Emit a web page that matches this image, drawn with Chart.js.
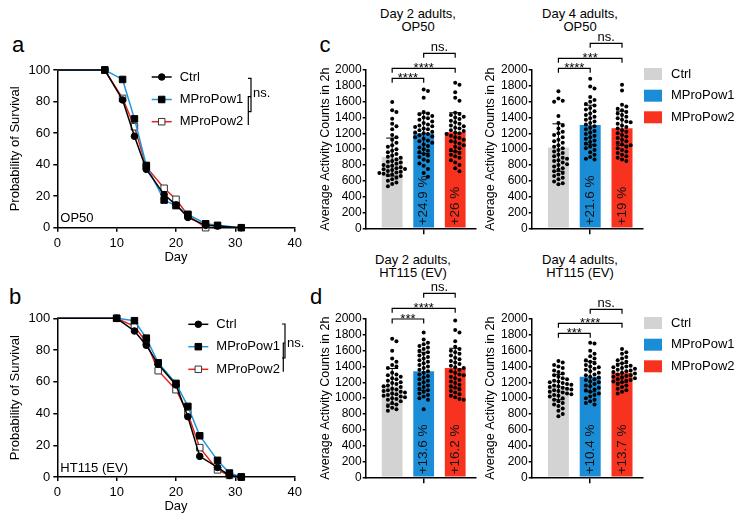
<!DOCTYPE html>
<html>
<head>
<meta charset="utf-8">
<script src="https://cdn.jsdelivr.net/npm/chart.js@4.4.1/dist/chart.umd.min.js"></script>
<style>
  body { margin: 0; background: #fff; width: 736px; height: 516px; position: relative; overflow: hidden;
         font-family: "Liberation Sans", Arial, Helvetica, sans-serif; color: #000; }
  canvas { position: absolute; }
  .lbl { position: absolute; white-space: nowrap; transform: translate(-50%, -50%); }
  .letter { font-size: 22px; }
  .ttl { font-size: 13px; line-height: 13.4px; text-align: center; }
</style>
</head>
<body>
<div class="lbl letter" style="left:18px;top:45px">a</div>
<div class="lbl letter" style="left:15px;top:297px">b</div>
<div class="lbl letter" style="left:325px;top:45px">c</div>
<div class="lbl letter" style="left:316px;top:297px">d</div>
<div class="lbl ttl" style="left:418px;top:20px">Day 2 adults,<br>OP50</div>
<div class="lbl ttl" style="left:580px;top:19.5px">Day 4 adults,<br>OP50</div>
<div class="lbl ttl" style="left:413px;top:266px">Day 2 adults,<br>HT115 (EV)</div>
<div class="lbl ttl" style="left:580px;top:266px">Day 4 adults,<br>HT115 (EV)</div>

<canvas id="survA" width="306" height="235" style="left:0;top:40px"></canvas>
<canvas id="survB" width="306" height="226" style="left:0;top:290px"></canvas>
<canvas id="actC2" width="180" height="250" style="left:300px;top:0"></canvas>
<canvas id="actC4" width="266" height="250" style="left:470px;top:0"></canvas>
<canvas id="actD2" width="180" height="266" style="left:300px;top:250px"></canvas>
<canvas id="actD4" width="266" height="266" style="left:470px;top:250px"></canvas>

<script>
// ---------- data ----------
const groups = ['Ctrl', 'MProPow1', 'MProPow2'];

// survival curves, panel a (OP50)
const daysA_ctrl = [0, 8, 11, 13, 15, 18, 20, 22, 25, 27, 31];
const survA_ctrl = [100, 100, 81, 58, 37, 21, 14.5, 6.5, 1.5, 1, 0];
const daysA_pow1 = [0, 8, 11, 13, 15, 18, 20, 22, 25, 27, 31];
const survA_pow1 = [100, 100, 94, 69, 39.5, 17.5, 14, 8.5, 2.5, 1.5, 0];
const daysA_pow2 = [0, 8, 11, 13, 15, 18, 20, 22, 25];
const survA_pow2 = [100, 100, 82, 64, 38.5, 25, 18, 8, 0];

// survival curves, panel b (HT115 (EV))
const daysB_ctrl = [0, 10, 13, 15, 17, 20, 22, 24, 27, 29, 31];
const survB_ctrl = [100, 100, 92, 83, 71, 58, 38, 13, 6, 1, 0];
const daysB_pow1 = [0, 10, 13, 15, 17, 20, 22, 24, 27, 29, 31];
const survB_pow1 = [100, 100, 98.5, 87.5, 72, 59, 44.5, 26, 10.5, 2.5, 0];
const daysB_pow2 = [0, 10, 13, 15, 17, 20, 22, 24, 27, 29, 31];
const survB_pow2 = [100, 100, 95, 85, 67, 55, 40, 18.5, 4.5, 1, 0];

// activity, day 2 OP50
const meanC2 = [900, 1200, 1215];
const sdC2 = [240, 255, 245];
const pctC2 = ['', '+24.9 %', '+26 %'];
const sigC2 = ['****', '****', 'ns.'];
const dotsC2_ctrl = [1595, 1490, 1470, 1385, 1320, 1290, 1250, 1180, 1150, 1120, 1080, 1050, 1030, 1000, 980, 960, 940, 920, 905, 890, 870, 850, 840, 830, 815, 800, 790, 780, 770, 760, 750, 745, 735, 725, 715, 705, 700, 690, 680, 670, 660, 640, 620, 600, 580, 560, 530];
const dotsC2_pow1 = [1755, 1735, 1650, 1470, 1450, 1440, 1420, 1400, 1390, 1370, 1350, 1330, 1310, 1300, 1290, 1280, 1260, 1250, 1240, 1220, 1210, 1200, 1190, 1175, 1160, 1150, 1130, 1110, 1100, 1080, 1060, 1040, 1020, 1000, 980, 960, 940, 920, 900, 870, 850, 820, 790, 750, 700, 650];
const dotsC2_pow2 = [1840, 1815, 1720, 1650, 1610, 1460, 1445, 1430, 1410, 1400, 1380, 1360, 1340, 1320, 1300, 1290, 1270, 1260, 1240, 1230, 1210, 1200, 1190, 1170, 1150, 1140, 1120, 1100, 1090, 1070, 1050, 1030, 1010, 990, 970, 950, 930, 910, 890, 860, 830, 800, 760, 720];

// activity, day 4 OP50
const meanC4 = [1020, 1305, 1265];
const sdC4 = [300, 250, 215];
const pctC4 = ['', '+21.6 %', '+19 %'];
const sigC4 = ['****', '***', 'ns.'];
const dotsC4_ctrl = [1730, 1640, 1610, 1600, 1420, 1330, 1300, 1260, 1220, 1200, 1180, 1150, 1120, 1100, 1080, 1050, 1030, 1010, 990, 970, 950, 930, 910, 890, 880, 860, 850, 830, 810, 800, 780, 760, 740, 720, 700, 680, 660, 640, 620, 590, 570, 555];
const dotsC4_pow1 = [1890, 1790, 1765, 1660, 1620, 1600, 1570, 1550, 1520, 1500, 1480, 1450, 1430, 1410, 1390, 1370, 1350, 1330, 1310, 1290, 1270, 1250, 1230, 1210, 1190, 1170, 1150, 1130, 1110, 1090, 1070, 1050, 1030, 1010, 990, 960, 930, 900, 880, 870];
const dotsC4_pow2 = [1815, 1740, 1560, 1540, 1510, 1490, 1470, 1450, 1430, 1410, 1390, 1370, 1350, 1340, 1320, 1300, 1280, 1260, 1240, 1220, 1200, 1180, 1160, 1140, 1120, 1100, 1080, 1060, 1050, 1030, 1010, 990, 970, 950, 930, 910, 890, 870, 850];

// activity, day 2 HT115 (EV)
const meanD2 = [1150, 1340, 1380];
const sdD2 = [225, 240, 250];
const pctD2 = ['', '+13.6 %', '+16.2 %'];
const sigD2 = ['***', '****', 'ns.'];
const dotsD2_ctrl = [1750, 1720, 1600, 1500, 1460, 1420, 1400, 1380, 1320, 1300, 1290, 1270, 1250, 1240, 1220, 1200, 1190, 1180, 1160, 1150, 1140, 1120, 1110, 1100, 1090, 1080, 1070, 1060, 1050, 1040, 1030, 1020, 1010, 1000, 990, 980, 960, 940, 920, 900, 880, 860, 840];
const dotsD2_pow1 = [1830, 1740, 1700, 1680, 1660, 1640, 1620, 1600, 1580, 1560, 1540, 1520, 1500, 1480, 1460, 1440, 1420, 1400, 1380, 1360, 1340, 1320, 1300, 1280, 1260, 1240, 1220, 1200, 1180, 1160, 1140, 1120, 1100, 1080, 1060, 1040, 1020, 1000, 980, 860];
const dotsD2_pow2 = [1980, 1860, 1830, 1720, 1650, 1620, 1600, 1580, 1560, 1540, 1510, 1490, 1470, 1450, 1430, 1410, 1390, 1380, 1360, 1340, 1320, 1300, 1290, 1270, 1250, 1230, 1210, 1190, 1170, 1150, 1130, 1110, 1090, 1070, 1050, 1030, 1010, 990, 980];

// activity, day 4 HT115 (EV)
const meanD4 = [1140, 1270, 1320];
const sdD4 = [160, 190, 120];
const pctD4 = ['', '+10.4 %', '+13.7 %'];
const sigD4 = ['***', '****', 'ns.'];
const dotsD4_ctrl = [1470, 1450, 1420, 1400, 1380, 1350, 1330, 1310, 1290, 1270, 1250, 1240, 1220, 1210, 1200, 1190, 1180, 1170, 1160, 1150, 1140, 1130, 1120, 1110, 1100, 1090, 1080, 1070, 1060, 1050, 1040, 1030, 1020, 1000, 980, 960, 940, 920, 900, 870, 840, 800, 770];
const dotsD4_pow1 = [1700, 1690, 1600, 1560, 1530, 1500, 1480, 1460, 1440, 1420, 1400, 1390, 1370, 1360, 1340, 1320, 1300, 1290, 1270, 1260, 1240, 1230, 1210, 1200, 1180, 1160, 1150, 1130, 1110, 1100, 1080, 1060, 1040, 1020, 1000, 980, 960, 940, 920];
const dotsD4_pow2 = [1620, 1580, 1560, 1520, 1500, 1480, 1460, 1440, 1420, 1410, 1400, 1390, 1380, 1370, 1360, 1350, 1340, 1330, 1320, 1310, 1300, 1290, 1280, 1270, 1260, 1250, 1240, 1230, 1220, 1210, 1200, 1180, 1160, 1140, 1120, 1100, 1080, 1060];

// ---------- styling ----------
const FONT = '"Liberation Sans", Arial, Helvetica, sans-serif';
Chart.defaults.font.family = FONT;
Chart.defaults.color = '#000';
const lineColors = ['#000000', '#1E96DC', '#E8231C'];
const barColors = ['#D3D3D3', '#1B8DD6', '#F7321F'];
const AXIS = { color: '#000', width: 1.5 };
const plain = v => String(v);   // no thousands separator

// ---------- survival charts ----------
const survDeco = {
  id: 'survDeco',
  afterDraw(chart, args, o) {
    const { ctx, chartArea: a } = chart;
    ctx.save();
    ctx.font = '13px ' + FONT;
    ctx.textBaseline = 'middle';
    chart.data.datasets.forEach((ds, i) => {
      const y = a.top + o.rows[i];
      const x0 = a.left + o.x0;
      ctx.strokeStyle = ds.borderColor; ctx.lineWidth = 1.5;
      ctx.beginPath(); ctx.moveTo(x0, y); ctx.lineTo(x0 + 20, y); ctx.stroke();
      ctx.fillStyle = ds.pointBackgroundColor; ctx.strokeStyle = ds.pointBorderColor; ctx.lineWidth = 1;
      Chart.helpers.drawPoint(ctx, { pointStyle: ds.pointStyle, radius: ds.markerSize, borderWidth: 1 }, x0 + 10, y);
      ctx.fillStyle = '#000';
      ctx.fillText(ds.label, x0 + 28, y);
    });
    // significance brackets
    ctx.strokeStyle = '#000'; ctx.lineWidth = 1.2;
    const b = o.br;
    ctx.beginPath();
    ctx.moveTo(a.left + b.x1 - 3, a.top + b.y1); ctx.lineTo(a.left + b.x1, a.top + b.y1);
    ctx.lineTo(a.left + b.x1, a.top + b.y2); ctx.lineTo(a.left + b.x1 - 3, a.top + b.y2);
    ctx.moveTo(a.left + b.x1, a.top + b.y3); ctx.lineTo(a.left + b.x2, a.top + b.y3);
    ctx.lineTo(a.left + b.x2, a.top + b.y4);
    ctx.stroke();
    ctx.textAlign = 'left';
    ctx.fillText('ns.', a.left + b.x1 + 2, a.top + b.yt);
    ctx.fillText(o.medium, a.left + 3, a.bottom - 9);
    ctx.restore();
  }
};

function makeSeries(label, days, vals, i, style, size, fill, edge) {
  return {
    label, data: days.map((d, k) => ({ x: d, y: vals[k] })),
    showLine: true, borderColor: lineColors[i], borderWidth: 1.5, clip: false,
    pointStyle: style, markerSize: size,
    pointRadius: c => (c.dataIndex === 0 ? 0 : size),
    pointBackgroundColor: fill, pointBorderColor: edge, pointBorderWidth: 1
  };
}

function survivalChart(id, series, o) {
  new Chart(document.getElementById(id), {
    type: 'scatter',
    data: { datasets: series },
    options: {
      responsive: false, animation: false, events: [],
      layout: { padding: { top: o.top, right: 11.3, left: 0, bottom: 0 } },
      plugins: { legend: { display: false }, tooltip: { enabled: false }, survDeco: o.deco },
      scales: {
        x: {
          type: 'linear', min: 0, max: 40,
          ticks: { stepSize: 10, font: { size: 13 }, padding: 4, maxRotation: 0, callback: plain },
          grid: { drawOnChartArea: false, tickLength: 4, color: '#000', lineWidth: 1.5 },
          border: AXIS,
          title: { display: true, text: 'Day', font: { size: 13 }, padding: { top: 0, bottom: o.dayPad } },
          afterFit: s => { s.height = o.xh; }
        },
        y: {
          min: 0, max: 100,
          ticks: { stepSize: 20, font: { size: 13 }, padding: 3, callback: plain },
          grid: { drawOnChartArea: false, tickLength: 4, color: '#000', lineWidth: 1.5 },
          border: AXIS,
          title: { display: true, text: 'Probability of Survival', font: { size: 13 }, padding: { top: 7.2, bottom: 0 } },
          afterFit: s => { s.width = 57.3; }
        }
      }
    },
    plugins: [survDeco]
  });
}

survivalChart('survA', [
  makeSeries('Ctrl', daysA_ctrl, survA_ctrl, 0, 'circle', 3.3, '#000', '#000'),
  makeSeries('MProPow1', daysA_pow1, survA_pow1, 1, 'rect', 4.6, '#000', '#000'),
  makeSeries('MProPow2', daysA_pow2, survA_pow2, 2, 'rect', 4.6, '#fff', '#333')
], { top: 30, xh: 47.3, dayPad: 9.8,
     deco: { rows: [7, 29.5, 51.7], x0: 94.4, medium: 'OP50',
             br: { x1: 193.7, y1: 8.3, y2: 41.7, x2: 191, y3: 26.7, y4: 55, yt: 23 } } });

survivalChart('survB', [
  makeSeries('Ctrl', daysB_ctrl, survB_ctrl, 0, 'circle', 3.3, '#000', '#000'),
  makeSeries('MProPow1', daysB_pow1, survB_pow1, 1, 'rect', 4.6, '#000', '#000'),
  makeSeries('MProPow2', daysB_pow2, survB_pow2, 2, 'rect', 4.6, '#fff', '#333')
], { top: 28.3, xh: 39, dayPad: 1.5,
     deco: { rows: [6, 28.4, 51], x0: 131, medium: 'HT115 (EV)',
             br: { x1: 227.7, y1: 5.7, y2: 39.7, x2: 226, y3: 24.7, y4: 53.4, yt: 25 } } });

// ---------- activity charts ----------
const UNIT_PX = 31.7, VAL_PX = 158.3 / 2000, DOT_GAP = 4.3;

// horizontal spread of dots so they do not overlap (beeswarm-like)
function swarm(vals) {
  const placed = [];
  return vals.map(v => {
    const py = v * VAL_PX;
    let dx = 0;
    for (let k = 0; k < 9; k++) {
      dx = (k % 2 ? 1 : -1) * Math.ceil(k / 2) * DOT_GAP;
      if (placed.every(p => (p.x - dx) ** 2 + (p.y - py) ** 2 >= DOT_GAP * DOT_GAP)) break;
    }
    placed.push({ x: dx, y: py });
    return dx / UNIT_PX;
  });
}

const barDeco = {
  id: 'barDeco',
  afterDatasetDraw(chart, args, o) {
    if (args.meta.type !== 'bar') return;
    const { ctx, chartArea: a, scales: { x } } = chart;
    ctx.save();
    ctx.font = '13.5px ' + FONT;
    ctx.fillStyle = '#111';
    ctx.textAlign = 'left'; ctx.textBaseline = 'middle';
    o.pct.forEach((t, i) => {
      if (!t) return;
      ctx.save();
      ctx.translate(x.getPixelForValue(i), a.bottom - 3);
      ctx.rotate(-Math.PI / 2);
      ctx.fillText(t, 0, 0);
      ctx.restore();
    });
    ctx.restore();
  },
  afterDatasetsDraw(chart, args, o) {
    const { ctx, chartArea: a, scales: { x, y } } = chart;
    ctx.save();
    ctx.strokeStyle = '#000'; ctx.lineWidth = 1;
    // error bars (mean ± SD)
    o.mean.forEach((m, i) => {
      const px = x.getPixelForValue(i);
      const t = y.getPixelForValue(m + o.sd[i]), b = y.getPixelForValue(m - o.sd[i]);
      ctx.beginPath();
      ctx.moveTo(px, t); ctx.lineTo(px, b);
      ctx.moveTo(px - 6, t); ctx.lineTo(px + 6, t);
      ctx.moveTo(px - 6, b); ctx.lineTo(px + 6, b);
      ctx.stroke();
    });
    // significance brackets
    const pairs = [[0, 1], [0, 2], [1, 2]];
    ctx.lineWidth = 1.2; ctx.fillStyle = '#000'; ctx.textAlign = 'center';
    pairs.forEach(([f, t], i) => {
      const yy = a.top + o.dy[i];
      const x1 = x.getPixelForValue(f), x2 = x.getPixelForValue(t);
      ctx.beginPath();
      ctx.moveTo(x1, yy + 4.5); ctx.lineTo(x1, yy); ctx.lineTo(x2, yy); ctx.lineTo(x2, yy + 4.5);
      ctx.stroke();
      ctx.font = '13px ' + FONT;
      ctx.textBaseline = 'alphabetic';
      const lab = o.sig[i];
      ctx.fillText(lab, (x1 + x2) / 2, lab === 'ns.' ? yy - 2 : yy + 4);
    });
    // legend
    if (o.legend) {
      ctx.font = '13px ' + FONT; ctx.textAlign = 'left'; ctx.textBaseline = 'middle';
      [4, 25.7, 47.3].forEach((r, i) => {
        const yy = a.top + r;
        ctx.fillStyle = barColors[i];
        ctx.fillRect(a.right + 1, yy - 6, 18, 12);
        ctx.fillStyle = '#000';
        ctx.fillText(groups[i], a.right + 28, yy);
      });
    }
    ctx.restore();
  }
};

function activityChart(id, mean, sd, dots, pct, sig, o) {
  const dotData = [];
  dots.forEach((vals, g) => {
    const jit = swarm(vals);
    vals.forEach((v, k) => dotData.push({ x: g + jit[k], y: v }));
  });
  new Chart(document.getElementById(id), {
    type: 'bar',
    data: {
      datasets: [
        { type: 'scatter', order: 1, data: dotData, pointRadius: 2, pointBackgroundColor: '#000',
          pointBorderWidth: 0, clip: false },
        { type: 'bar', order: 2, data: mean.map((m, i) => ({ x: i, y: m })), backgroundColor: barColors,
          barPercentage: 0.66, categoryPercentage: 1, borderWidth: 0 }
      ]
    },
    options: {
      responsive: false, animation: false, events: [],
      layout: { padding: { top: o.top, right: o.right, left: 0, bottom: 0 } },
      plugins: { legend: { display: false }, tooltip: { enabled: false },
                 barDeco: { mean, sd, pct, sig, dy: o.dy, legend: o.legend } },
      scales: {
        x: {
          type: 'linear', min: -0.84, max: 2.66, offset: false,
          afterBuildTicks: s => { s.ticks = [{ value: 1 }]; },
          ticks: { display: false },
          grid: { offset: false, drawOnChartArea: false, tickLength: 6, color: '#000', lineWidth: 1.5 },
          border: AXIS,
          afterFit: s => { s.height = o.xh; }
        },
        y: {
          min: 0, max: 2000,
          ticks: { stepSize: 200, font: { size: 12 }, padding: 1, autoSkip: false, callback: plain },
          grid: { drawOnChartArea: false, tickLength: 3, color: '#000', lineWidth: 1.5 },
          border: AXIS,
          title: { display: true, text: 'Average Activity Counts in 2h', font: { size: 12.5 },
                   padding: { top: o.tpad, bottom: 0 } },
          afterFit: s => { s.width = o.yw; }
        }
      }
    },
    plugins: [barDeco]
  });
}

activityChart('actC2', meanC2, sdC2, [dotsC2_ctrl, dotsC2_pow1, dotsC2_pow2], pctC2, sigC2,
  { top: 70, right: 3.3, xh: 21.7, yw: 65.7, tpad: 18, dy: [8.3, -1.7, -16.7], legend: false });
activityChart('actC4', meanC4, sdC4, [dotsC4_ctrl, dotsC4_pow1, dotsC4_pow2], pctC4, sigC4,
  { top: 70, right: 93, xh: 21.7, yw: 61.7, tpad: 13.5, dy: [-1.7, -11.7, -26.7], legend: true });
activityChart('actD2', meanD2, sdD2, [dotsD2_ctrl, dotsD2_pow1, dotsD2_pow2], pctD2, sigD2,
  { top: 69, right: 3.3, xh: 38.7, yw: 65.7, tpad: 18, dy: [0, -10.7, -25.7], legend: false });
activityChart('actD4', meanD4, sdD4, [dotsD4_ctrl, dotsD4_pow1, dotsD4_pow2], pctD4, sigD4,
  { top: 69, right: 93, xh: 38.7, yw: 61.7, tpad: 13.5, dy: [14.3, 4.3, -9.7], legend: true });
</script>
</body>
</html>
